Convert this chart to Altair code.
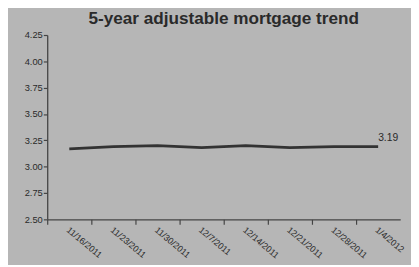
import altair as alt
import pandas as pd

dates = ["11/16/2011", "11/23/2011", "11/30/2011", "12/7/2011",
         "12/14/2011", "12/21/2011", "12/28/2011", "1/4/2012"]
rates = [3.17, 3.19, 3.20, 3.18, 3.20, 3.18, 3.19, 3.19]
title_text = "5-year adjustable mortgage trend"
y_ticks = [2.50, 2.75, 3.00, 3.25, 3.50, 3.75, 4.00, 4.25]

df = pd.DataFrame({"date": dates, "rate": rates})
last = df.iloc[[-1]].copy()
last["label"] = [f"{v:.2f}" for v in last["rate"]]

FONT = "Liberation Sans"
BG = "#b6b6b6"
INK = "#2a2a2a"
W, H = 360, 188
step = W / len(dates)

x_enc = alt.X(
    "date:O",
    sort=dates,
    scale=alt.Scale(type="point", padding=0.5),
    axis=alt.Axis(
        title=None,
        labelAngle=40,
        labelAlign="left",
        labelBaseline="middle",
        labelFontSize=9,
        labelColor=INK,
        labelFont=FONT,
        labelPadding=4,
        tickOffset=-step / 2,
        labelOffset=step / 2 - 2,
        tickSize=5,
        tickColor="#444444",
        domainColor="#444444",
        domainWidth=1.3,
        tickWidth=1.2,
        ticks=True,
    ),
)
y_enc = alt.Y(
    "rate:Q",
    scale=alt.Scale(domain=[2.5, 4.25], nice=False, zero=False),
    axis=alt.Axis(
        title=None,
        values=y_ticks,
        format=".2f",
        labelFontSize=9.5,
        labelColor=INK,
        labelFont=FONT,
        tickSize=4,
        labelPadding=1,
        tickColor="#444444",
        domainColor="#444444",
        domainWidth=1.3,
        tickWidth=1.2,
        grid=False,
    ),
)

line = alt.Chart(df).mark_line(color="#333333", strokeWidth=2.8).encode(x=x_enc, y=y_enc)
label = alt.Chart(last).mark_text(
    align="left", baseline="middle", dx=0, dy=-9, fontSize=10.5, color=INK, font=FONT
).encode(x=x_enc, y=y_enc, text="label:N")

chart = (
    alt.layer(line, label)
    .properties(
        width=W,
        height=H,
        padding={"left": 40, "top": 25, "right": 11, "bottom": 44},
        autosize=alt.AutoSizeParams(type="none"),
        background=BG,
        title=alt.TitleParams(
            title_text, fontSize=17.5, font=FONT, fontWeight="bold", color=INK,
            anchor="middle", offset=3,
        ),
    )
    .configure_view(stroke=None)
)

chart.save("out.html", embed_options={"renderer": "svg", "actions": False})
